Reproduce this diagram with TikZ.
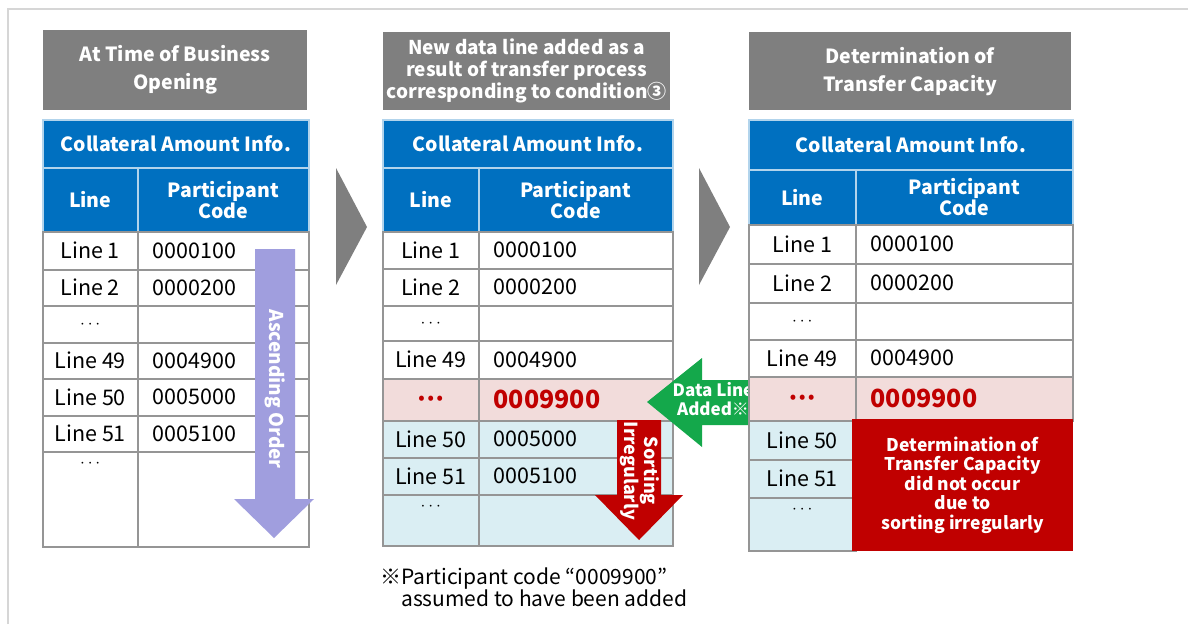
\documentclass[tikz,border=0pt]{standalone}
\usepackage{fontspec}
\setmainfont{Noto Sans CJK JP}
\definecolor{hdrgray}{HTML}{7F7F7F}
\definecolor{infoblue}{HTML}{0070C0}
\definecolor{gridgray}{HTML}{959595}
\definecolor{rowpink}{HTML}{F2DCDB}
\definecolor{rowcyan}{HTML}{DAEEF3}
\definecolor{darkred}{HTML}{C00000}
\definecolor{addgreen}{HTML}{14A84B}
\definecolor{ascviolet}{HTML}{A09EDE}
\definecolor{framegray}{HTML}{D6D6D6}
\newcommand\rowdots{{\fontsize{16}{16}\selectfont$\cdots$}}
\tikzset{
  title/.style={fill=hdrgray, text=white, font=\bfseries\fontsize{19.5}{28}\selectfont, align=center, anchor=north west, inner sep=0pt},
  info/.style={fill=infoblue, draw=white!70!infoblue, line width=1.5pt, text=white, font=\bfseries\fontsize{19.5}{21}\selectfont, align=center, anchor=north west, inner sep=0pt},
  cell/.style={draw=gridgray, line width=1.5pt, fill=white, anchor=north west, inner sep=0pt, font=\fontsize{21.5}{21.5}\selectfont},
  codecell/.style={cell, align=left, inner xsep=15pt},
  dotlbl/.style={anchor=north, yshift=-9pt, inner sep=0pt},
  hotrow/.style={text=darkred, font=\bfseries\fontsize{25}{25}\selectfont},
  arrowlbl/.style={text=white, font=\bfseries\fontsize{19}{20}\selectfont, align=center, inner sep=0pt}
}
\begin{document}
\begin{tikzpicture}[x=1pt, y=-1pt]
\useasboundingbox (0,0) rectangle (1188,624);
\draw[framegray, line width=2pt] (8,624) -- (8,9) -- (1188,9);

% at business opening
\node[title, minimum width=264pt, minimum height=80pt] (titleA) at (43,30) {At Time of Business\\Opening};
\node[info, minimum width=266pt, minimum height=48pt] (infoA) at (42,119) {Collateral Amount Info.};
\node[info, minimum width=95pt, minimum height=64pt] (lineA) at (42,167) {Line};
\node[info, minimum width=171pt, minimum height=64pt] (codeA) at (137,167) {Participant\\Code};
\foreach \y/\h/\lbl/\num [count=\i] in {231/38/Line 1/0000100, 269/36/Line 2/0000200, 305/37/\rowdots/{}, 342/36/Line 49/0004900, 378/37/Line 50/0005000, 415/36/Line 51/0005100}{
  \node[cell, minimum width=95pt, minimum height=\h pt] (lA\i) at (42,\y) {\lbl};
  \node[codecell, text width=141pt, minimum height=\h pt] (cA\i) at (137,\y) {\num};
}
\node[cell, minimum width=95pt, minimum height=95pt, label={[dotlbl]north:\rowdots}] (lA7) at (42,451) {};
\node[cell, minimum width=171pt, minimum height=95pt] (cA7) at (137,451) {};
\fill[ascviolet] (255,249) -- (295,249) -- (295,499) -- (314,499) -- (274,538) -- (234,499) -- (255,499) -- cycle;
\node[arrowlbl, rotate=-90] (ascA) at (275,389) {Ascending Order};

\fill[hdrgray] (336,168) -- (367,227) -- (336,285) -- cycle;

% after transfer
\node[title, font=\bfseries\fontsize{19}{22}\selectfont, minimum width=287pt, minimum height=78pt] (titleB) at (383,32) {New data line added as a\\result of transfer process\\corresponding to condition③};
\node[info, minimum width=290pt, minimum height=48pt] (infoB) at (382,119) {Collateral Amount Info.};
\node[info, minimum width=96pt, minimum height=64pt] (lineB) at (382,167) {Line};
\node[info, minimum width=194pt, minimum height=64pt] (codeB) at (478,167) {Participant\\Code};
\foreach \y/\h/\bg/\lbl/\num [count=\i] in {231/37/white/Line 1/0000100, 268/37/white/Line 2/0000200, 305/35/white/\rowdots/{}, 340/38/white/Line 49/0004900, 420/37/rowcyan/Line 50/0005000, 457/37/rowcyan/Line 51/0005100}{
  \node[cell, fill=\bg, minimum width=96pt, minimum height=\h pt] (lB\i) at (382,\y) {\lbl};
  \node[codecell, fill=\bg, text width=164pt, minimum height=\h pt] (cB\i) at (478,\y) {\num};
}
\node[cell, fill=rowpink, hotrow, font=\bfseries\fontsize{16}{16}\selectfont, minimum width=96pt, minimum height=42pt] (lBx) at (382,378) {•\,•\,•};
\node[codecell, fill=rowpink, hotrow, text width=164pt, minimum height=42pt] (cBx) at (478,378) {0009900};
\node[cell, fill=rowcyan, minimum width=96pt, minimum height=51pt, label={[dotlbl]north:\rowdots}] (lB7) at (382,494) {};
\node[cell, fill=rowcyan, minimum width=194pt, minimum height=51pt] (cB7) at (478,494) {};
\fill[darkred] (617,420) -- (661,420) -- (661,495) -- (683,495) -- (639,540) -- (595,495) -- (617,495) -- cycle;
\node[arrowlbl, font=\bfseries\fontsize{18}{20}\selectfont, rotate=-90] (sortB) at (640,471) {Sorting\\Irregularly};
\node[anchor=north west, font=\fontsize{21}{22}\selectfont, align=left, inner sep=0pt] (noteB) at (380,568) {※Participant code “0009900”\\\phantom{※}assumed to have been added};

\fill[addgreen] (647,402) -- (702,358) -- (702,380) -- (752,380) -- (752,425) -- (702,425) -- (702,447) -- cycle;
\node[arrowlbl, font=\bfseries\fontsize{17}{19}\selectfont] (addC) at (713,399) {Data Line\\Added※};

\fill[hdrgray] (699,168) -- (730,227) -- (699,285) -- cycle;

% determination of transfer capacity
\node[title, minimum width=322pt, minimum height=78pt] (titleC) at (749,32) {Determination of\\Transfer Capacity};
\node[info, minimum width=324pt, minimum height=50pt] (infoC) at (748,119) {Collateral Amount Info.};
\node[info, minimum width=107pt, minimum height=55pt] (lineC) at (748,169) {Line};
\node[info, minimum width=217pt, minimum height=55pt] (codeC) at (855,169) {Participant\\Code};
\foreach \y/\h/\lbl/\num [count=\i] in {224/39/Line 1/0000100, 263/39/Line 2/0000200, 302/37/\rowdots/{}, 339/37/Line 49/0004900}{
  \node[cell, minimum width=107pt, minimum height=\h pt] (lC\i) at (748,\y) {\lbl};
  \node[codecell, text width=187pt, minimum height=\h pt] (cC\i) at (855,\y) {\num};
}
\node[cell, fill=rowpink, hotrow, font=\bfseries\fontsize{16}{16}\selectfont, minimum width=107pt, minimum height=44pt] (lCx) at (748,376) {•\,•\,•};
\node[codecell, fill=rowpink, hotrow, text width=187pt, minimum height=44pt] (cCx) at (855,376) {0009900};
\node[cell, fill=rowcyan, minimum width=107pt, minimum height=39pt] (lC5) at (748,420) {Line 50};
\node[cell, fill=rowcyan, minimum width=107pt, minimum height=38pt] (lC6) at (748,459) {Line 51};
\node[cell, fill=rowcyan, minimum width=107pt, minimum height=53pt, label={[dotlbl]north:\rowdots}] (lC7) at (748,497) {};
\node[fill=darkred, text=white, font=\bfseries\fontsize{17.5}{19.5}\selectfont, align=center, anchor=north west, inner sep=0pt, minimum width=221pt, minimum height=132pt] (failC) at (852,419) {Determination of\\Transfer Capacity\\did not occur\\due to\\sorting irregularly};
\end{tikzpicture}
\end{document}
